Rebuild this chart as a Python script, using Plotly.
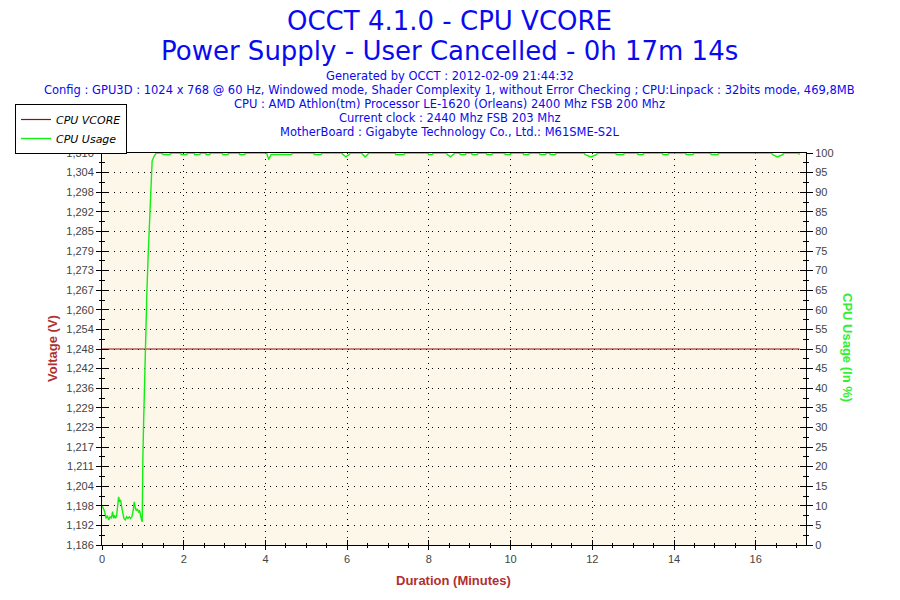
import plotly.graph_objects as go

# ---------------- data ----------------
duration_max = 17.23  # 0h 17m 14s in minutes

vcore_t = [0.0, 17.07]
vcore_v = [1.248, 1.248]

usage_t = [0.00, 0.024, 0.065, 0.098, 0.13, 0.163, 0.195, 0.228, 0.26, 0.285, 0.309, 0.333,
           0.358, 0.382, 0.407, 0.431, 0.455, 0.48, 0.504, 0.537, 0.569, 0.602, 0.634, 0.667,
           0.699, 0.732, 0.764, 0.789, 0.813, 0.837, 0.862, 0.894, 0.919, 0.943, 0.967, 0.984,
           0.99, 1.0, 1.02, 1.04, 1.056, 1.08, 1.10, 1.13, 1.16, 1.19, 1.227, 1.28, 1.33,
           1.45, 1.50, 1.66, 1.70,
           1.92, 1.94, 2.07, 2.10,
           2.25, 2.27, 2.39, 2.42,
           2.53, 2.55, 2.63, 2.66,
           2.94, 2.96, 3.08, 3.11,
           3.35, 3.37, 3.49, 3.52,
           4.03, 4.08, 4.14, 4.63, 4.66,
           5.18, 5.20, 5.36, 5.39,
           5.87, 5.90, 5.97, 6.05, 6.08,
           6.35, 6.38, 6.44, 6.50, 6.53,
           7.17, 7.19, 7.39, 7.42,
           7.98, 8.00, 8.08, 8.11,
           8.43, 8.45, 8.53, 8.61, 8.64,
           8.75, 8.77, 8.89, 8.92,
           9.04, 9.06, 9.18, 9.21,
           9.40, 9.42, 9.54, 9.57,
           9.85, 9.87, 9.99, 10.02,
           10.30, 10.32, 10.44, 10.47,
           10.70, 10.72, 10.85, 10.88,
           10.95, 10.97, 11.09, 11.12,
           11.80, 11.82, 11.96, 12.10, 12.13,
           12.57, 12.59, 12.76, 12.79,
           13.10, 13.12, 13.24, 13.27,
           13.71, 13.73, 13.85, 13.88,
           14.28, 14.30, 14.46, 14.49,
           14.89, 14.91, 15.07, 15.10,
           16.39, 16.41, 16.53, 16.66, 16.69,
           17.05, 17.07]
usage_v = [9.8, 9.6, 8.5, 6.8, 7.5, 6.4, 7.2, 6.8, 8.5, 6.8, 7.6, 6.8,
           7.5, 10.2, 12.3, 11.0, 11.5, 9.8, 8.5, 6.8, 6.4, 7.2, 6.8, 7.2,
           6.8, 7.2, 8.8, 11.0, 9.6, 8.8, 9.2, 8.5, 8.8, 6.9, 6.4, 5.9,
           15.0, 22.0, 32.0, 42.0, 50.0, 58.0, 65.0, 74.0, 83.0, 90.0, 98.0, 99.3, 100.0,
           100, 99.6, 99.6, 100,
           100, 99.6, 99.6, 100,
           100, 99.6, 99.6, 100,
           100, 99.6, 99.6, 100,
           100, 99.6, 99.6, 100,
           100, 99.6, 99.6, 100,
           100, 98.3, 99.6, 99.6, 100,
           100, 99.6, 99.6, 100,
           100, 99.6, 99.0, 99.6, 100,
           100, 99.6, 99.0, 99.6, 100,
           100, 99.6, 99.6, 100,
           100, 99.6, 99.6, 100,
           100, 99.6, 99.0, 99.6, 100,
           100, 99.6, 99.6, 100,
           100, 99.6, 99.6, 100,
           100, 99.6, 99.6, 100,
           100, 99.6, 99.6, 100,
           100, 99.6, 99.6, 100,
           100, 99.6, 99.6, 100,
           100, 99.6, 99.6, 100,
           100, 99.6, 99.0, 99.6, 100,
           100, 99.6, 99.6, 100,
           100, 99.6, 99.6, 100,
           100, 99.6, 99.6, 100,
           100, 99.6, 99.6, 100,
           100, 99.6, 99.6, 100,
           100, 99.6, 99.0, 99.6, 100,
           100, 99.6]

volt_ticktext = ["1,186", "1,192", "1,198", "1,204", "1,211", "1,217", "1,223", "1,229", "1,236",
                 "1,242", "1,248", "1,254", "1,260", "1,267", "1,273", "1,279", "1,285", "1,292",
                 "1,298", "1,304", "1,310"]
volt_min, volt_max = 1.186, 1.310
x_ticks = [0, 2, 4, 6, 8, 10, 12, 14, 16]
usage_ticks = list(range(0, 101, 5))

title_lines = ["OCCT 4.1.0 - CPU VCORE",
               "Power Supply - User Cancelled - 0h 17m 14s"]
info_lines = ["Generated by OCCT : 2012-02-09 21:44:32",
              "Config : GPU3D : 1024 x 768 @ 60 Hz, Windowed mode, Shader Complexity 1, without Error Checking ; CPU:Linpack : 32bits mode, 469,8MB",
              "CPU : AMD Athlon(tm) Processor LE-1620 (Orleans) 2400 Mhz FSB 200 Mhz",
              "Current clock : 2440 Mhz FSB 203 Mhz",
              "MotherBoard : Gigabyte Technology Co., Ltd.: M61SME-S2L"]

# ---------------- style ----------------
FONT = "DejaVu Sans"
BLUE = "#0A0AF0"
RED_T = "#B03030"
GREEN = "#11EE11"
VCORE_C = "#8B1010"
TICK_C = "#444444"

n = len(volt_ticktext) - 1
volt_tickvals = [volt_min + i * (volt_max - volt_min) / n for i in range(n + 1)]
volt_minor = (volt_max - volt_min) / n / 2

fig = go.Figure()
fig.add_trace(go.Scatter(x=vcore_t, y=vcore_v, mode="lines", name="CPU VCORE",
                         line=dict(color=VCORE_C, width=1.2), yaxis="y"))
fig.add_trace(go.Scatter(x=usage_t, y=usage_v, mode="lines", name="CPU Usage",
                         line=dict(color=GREEN, width=1.4), yaxis="y2"))

tickfont = dict(family="Liberation Sans", size=11, color=TICK_C)

fig.update_layout(
    width=900, height=600,
    paper_bgcolor="white", plot_bgcolor="#FDF7E9",
    margin=dict(l=102, r=94, t=153, b=55, autoexpand=False),
    font=dict(family=FONT),
    showlegend=True,
    legend=dict(x=-0.1236, y=1.125, xanchor="left", yanchor="top",
                bgcolor="white", bordercolor="black", borderwidth=1,
                font=dict(family=FONT, size=11, color="black", style="italic"),
                tracegroupgap=0, itemwidth=30),
    xaxis=dict(range=[0, duration_max], tickmode="array", tickvals=x_ticks,
               ticks="outside", ticklen=4, tickcolor="black", tickwidth=1,
               minor=dict(dtick=0.5, tick0=0, ticks="outside", ticklen=2, tickcolor="black", showgrid=False),
               showline=True, linecolor="black", linewidth=1, mirror=True,
               showgrid=True, gridcolor="black", gridwidth=1, griddash="1px,5px",
               zeroline=False, tickfont=tickfont, layer="above traces"),
    yaxis=dict(range=[volt_min, volt_max], tickmode="array", tickvals=volt_tickvals, ticktext=volt_ticktext,
               ticks="outside", ticklen=5, tickcolor="black", tickwidth=1,
               minor=dict(tick0=volt_min, dtick=volt_minor, ticks="outside", ticklen=2, tickcolor="black", showgrid=False),
               showline=True, linecolor="black", linewidth=1, mirror=True,
               showgrid=True, gridcolor="black", gridwidth=1, griddash="1px,5px",
               zeroline=False, tickfont=tickfont, layer="above traces"),
    yaxis2=dict(range=[0, 100], overlaying="y", side="right", tickmode="array", tickvals=usage_ticks,
                ticks="outside", ticklen=6, tickcolor="black", tickwidth=1,
                minor=dict(tick0=0, dtick=2.5, ticks="outside", ticklen=2, tickcolor="black", showgrid=False),
                showline=False, showgrid=False, zeroline=False, tickfont=tickfont, layer="above traces"),
    # overlay axes giving the inner half of the crossing ticks
    xaxis2=dict(range=[0, duration_max], overlaying="x", anchor="y", side="bottom", tickmode="array", tickvals=x_ticks,
                ticks="inside", ticklen=5, tickcolor="black", showticklabels=False,
                minor=dict(dtick=0.5, tick0=0, ticks="inside", ticklen=2, tickcolor="black"),
                showline=False, showgrid=False, zeroline=False),
    yaxis3=dict(range=[volt_min, volt_max], overlaying="y", side="left", tickmode="array", tickvals=volt_tickvals,
                ticks="inside", ticklen=6, tickcolor="black", showticklabels=False,
                minor=dict(tick0=volt_min, dtick=volt_minor, ticks="inside", ticklen=3, tickcolor="black"),
                showline=False, showgrid=False, zeroline=False),
    yaxis4=dict(range=[0, 100], overlaying="y", side="right", tickmode="array", tickvals=usage_ticks,
                ticks="inside", ticklen=6, tickcolor="black", showticklabels=False,
                minor=dict(tick0=0, dtick=2.5, ticks="inside", ticklen=3, tickcolor="black"),
                showline=False, showgrid=False, zeroline=False),
)

# invisible traces so the overlay axes are drawn
fig.add_trace(go.Scatter(x=[None], y=[None], xaxis="x2", yaxis="y3", showlegend=False, hoverinfo="skip"))
fig.add_trace(go.Scatter(x=[None], y=[None], xaxis="x2", yaxis="y4", showlegend=False, hoverinfo="skip"))

ann = []
title_y = [1.3367, 1.2602]
for txt, yy in zip(title_lines, title_y):
    ann.append(dict(text=txt, x=0.4943, y=yy, xref="paper", yref="paper", showarrow=False,
                    xanchor="center", yanchor="middle", font=dict(family=FONT, size=26, color=BLUE)))
info_y = [1.1964, 1.1607, 1.125, 1.0893, 1.0536]
for txt, yy in zip(info_lines, info_y):
    ann.append(dict(text=txt, x=0.4943, y=yy, xref="paper", yref="paper", showarrow=False,
                    xanchor="center", yanchor="middle", font=dict(family=FONT, size=11.5, color=BLUE)))
ann.append(dict(text="<b>Voltage (V)</b>", x=-0.071, y=0.5, xref="paper", yref="paper", showarrow=False,
                textangle=-90, xanchor="center", yanchor="middle",
                font=dict(family="Liberation Sans", size=13, color=RED_T)))
ann.append(dict(text="<b>CPU Usage (In %)</b>", x=1.0597, y=0.505, xref="paper", yref="paper", showarrow=False,
                textangle=90, xanchor="center", yanchor="middle",
                font=dict(family="Liberation Sans", size=13, color="#33EE33")))
ann.append(dict(text="<b>Duration (Minutes)</b>", x=0.4986, y=-0.0893, xref="paper", yref="paper", showarrow=False,
                xanchor="center", yanchor="middle",
                font=dict(family="Liberation Sans", size=13, color=RED_T)))
fig.update_layout(annotations=ann)

# remove the browser's default 8px page margin so the figure sits at the window origin
fig.write_html("out.html", config={"displayModeBar": False},
               post_script="document.body.style.margin='0';")
